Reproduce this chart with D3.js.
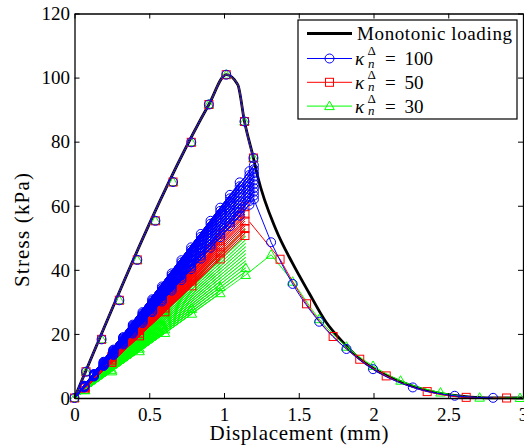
<!DOCTYPE html>
<html>
<head>
<meta charset="utf-8">
<script src="https://cdn.jsdelivr.net/npm/d3@7"></script>
<style>
  body { margin: 0; background: #fff; }
  svg text { font-family: "Liberation Serif", serif; }
</style>
</head>
<body>
<div id="chart"></div>
<script>
// monotonic loading curve
var monoX = [0, 0.899, 1.015, 1.092, 1.137, 1.197, 1.225, 1.348, 1.459, 1.57, 1.681, 1.792, 1.903, 2.015, 2.125, 2.237, 2.348, 2.525, 2.65, 2.8, 3.0];
var monoY = [0, 91.6, 100.9, 97.8, 86.3, 74.9, 69.2, 52.5, 42.0, 32.7, 23.8, 17.6, 12.4, 8.75, 6.2, 4.1, 2.5, 0.9, 0.3, 0.05, 0];

// first loading (markers of all three runs sit on the monotonic curve)
var virginX = [0, 0.077, 0.181, 0.3, 0.42, 0.541, 0.659, 0.781, 0.899, 1.015, 1.137, 1.197];
var virginY = [0, 8.2, 18.3, 30.5, 43.1, 55.3, 67.4, 79.8, 91.6, 100.9, 86.3, 74.9];

// cyclic blocks: displacement of each block, peak stress of each cycle in it
var blueBlockX = [0.065, 0.13, 0.195, 0.26, 0.325, 0.39, 0.455, 0.52, 0.585, 0.65, 0.715, 0.78, 0.845, 0.91, 0.975, 1.04, 1.105, 1.17, 1.2];
var blueBlockY = [
  [3.8, 3.8, 3.7, 3.7, 3.6, 3.5, 3.5, 3.4, 3.4, 3.3],
  [7.5, 7.4, 7.3, 7.2, 7.1, 7.0, 7.0, 6.9, 6.8, 6.7],
  [11.3, 11.2, 11.0, 10.9, 10.7, 10.6, 10.4, 10.3, 10.1, 10.0],
  [15.1, 14.9, 14.7, 14.5, 14.3, 14.2, 14.0, 13.8, 13.6, 13.4],
  [19.0, 18.7, 18.5, 18.2, 18.0, 17.7, 17.5, 17.2, 17.0, 16.7],
  [22.9, 22.6, 22.3, 22.0, 21.7, 21.3, 21.0, 20.7, 20.4, 20.1],
  [26.8, 26.4, 26.0, 25.7, 25.3, 24.9, 24.5, 24.2, 23.8, 23.4],
  [30.8, 30.4, 29.9, 29.5, 29.0, 28.6, 28.1, 27.7, 27.2, 26.8],
  [34.8, 34.3, 33.8, 33.2, 32.7, 32.2, 31.7, 31.1, 30.6, 30.1],
  [38.9, 38.3, 37.7, 37.1, 36.5, 35.9, 35.3, 34.7, 34.1, 33.5],
  [43.0, 42.3, 41.6, 40.9, 40.2, 39.6, 38.9, 38.2, 37.5, 36.8],
  [47.0, 46.2, 45.5, 44.7, 44.0, 43.2, 42.5, 41.7, 41.0, 40.2],
  [51.2, 50.3, 49.5, 48.6, 47.8, 46.9, 46.1, 45.2, 44.4, 43.5],
  [55.3, 54.4, 53.4, 52.5, 51.6, 50.6, 49.7, 48.8, 47.8, 46.9],
  [59.4, 58.4, 57.4, 56.3, 55.3, 54.3, 53.3, 52.2, 51.2, 50.2],
  [63.4, 62.3, 61.2, 60.1, 59.0, 58.0, 56.9, 55.8, 54.7, 53.6],
  [67.3, 66.1, 65.0, 63.8, 62.7, 61.5, 60.4, 59.2, 58.1, 56.9],
  [70.8, 69.6, 68.5, 67.3, 66.1, 65.0, 63.8, 62.6, 61.5, 60.3],
  [72.6, 71.4, 70.2, 69.1, 67.9, 66.7, 65.5, 64.4, 63.2, 62.0]
];
var redBlockX = [0.07, 0.25, 0.435, 0.605, 0.785, 0.975, 1.14];
var redBlockY = [
  [3.7, 3.7, 3.6, 3.6, 3.5, 3.5, 3.4, 3.4, 3.3, 3.3, 3.2, 3.2, 3.1, 3.1],
  [13.2, 13.0, 12.9, 12.7, 12.6, 12.4, 12.2, 12.1, 11.9, 11.8, 11.6, 11.4, 11.3, 11.1],
  [23.0, 22.7, 22.4, 22.2, 21.9, 21.6, 21.3, 21.1, 20.8, 20.5, 20.2, 19.9, 19.7, 19.4],
  [32.0, 31.6, 31.2, 30.8, 30.4, 30.0, 29.6, 29.3, 28.9, 28.5, 28.1, 27.7, 27.3, 26.9],
  [41.6, 41.1, 40.6, 40.1, 39.6, 39.1, 38.6, 38.0, 37.5, 37.0, 36.5, 36.0, 35.5, 35.0],
  [51.7, 51.1, 50.4, 49.8, 49.1, 48.5, 47.9, 47.2, 46.6, 45.9, 45.3, 44.7, 44.0, 43.4],
  [60.4, 59.7, 58.9, 58.2, 57.4, 56.7, 55.9, 55.2, 54.4, 53.7, 52.9, 52.2, 51.4, 50.7]
];
var greenBlockX = [0.07, 0.25, 0.435, 0.605, 0.785, 0.975, 1.145];
var greenBlockY = [
  [3.2, 3.1, 3.1, 3.0, 3.0, 2.9, 2.8, 2.8, 2.7, 2.6, 2.6, 2.5, 2.5, 2.4],
  [11.5, 11.3, 11.0, 10.8, 10.5, 10.3, 10.0, 9.8, 9.5, 9.3, 9.0, 8.8, 8.5, 8.3],
  [20.0, 19.6, 19.2, 18.8, 18.3, 17.9, 17.5, 17.1, 16.7, 16.3, 15.8, 15.4, 15.0, 14.6],
  [27.8, 27.2, 26.7, 26.1, 25.5, 24.9, 24.3, 23.8, 23.2, 22.6, 22.0, 21.4, 20.9, 20.3],
  [36.1, 35.3, 34.6, 33.8, 33.1, 32.3, 31.6, 30.8, 30.1, 29.3, 28.6, 27.8, 27.1, 26.3],
  [44.9, 44.0, 43.0, 42.1, 41.1, 40.2, 39.3, 38.3, 37.4, 36.4, 35.5, 34.6, 33.6, 32.7],
  [52.7, 51.6, 50.5, 49.4, 48.3, 47.2, 46.1, 45.0, 43.9, 42.8, 41.7, 40.6, 39.5, 38.4]
];

// final softening branch of each run
var blueTailX = [1.2, 1.315, 1.459, 1.637, 1.819, 1.997, 2.263, 2.543, 2.80];
var blueTailY = [62.0, 48.6, 35.6, 23.8, 15.3, 9.0, 3.3, 0.7, 0.05];
var redTailX = [1.17, 1.375, 1.552, 1.73, 1.908, 2.085, 2.359, 2.62, 2.89];
var redTailY = [55.0, 43.3, 29.4, 19.2, 12.1, 6.9, 2.0, 0.2, 0];
var greenTailX = [1.145, 1.315, 1.459, 1.637, 1.819, 1.997, 2.181, 2.448, 2.71, 2.98];
var greenTailY = [38.4, 44.7, 36.3, 24.6, 16.0, 10.0, 5.4, 1.7, 0.1, 0];

var xTicks = [0, 0.5, 1, 1.5, 2, 2.5, 3];
var xTickLabels = ["0", "0.5", "1", "1.5", "2", "2.5", "3"];
var yTicks = [0, 20, 40, 60, 80, 100, 120];
var legendLabels = ["100", "50", "30"];

var W = 524, H = 448;
var fontF = "'Liberation Serif', serif";

var svg = d3.select("#chart").append("svg")
    .attr("width", W)
    .attr("height", H)
    .attr("font-family", fontF);

var x = d3.scaleLinear().domain([0, 3]).range([74.5, 523]);
var y = d3.scaleLinear().domain([0, 120]).range([398, 13.5]);

// markers: every = step between marked cycles (from the last one), count = how many
var series = [
  {name: "green", color: "#00ff00", marker: "tri", bx: greenBlockX, by: greenBlockY, tx: greenTailX, ty: greenTailY, every: 2, count: 2},
  {name: "red", color: "#ff0000", marker: "sq", bx: redBlockX, by: redBlockY, tx: redTailX, ty: redTailY, every: 3, count: 5},
  {name: "blue", color: "#0000ff", marker: "circ", bx: blueBlockX, by: blueBlockY, tx: blueTailX, ty: blueTailY, every: 1, count: 10}
];

function drawMarker(g, type, px, py, color) {
  if (type == "circ") {
    g.append("circle").attr("cx", px).attr("cy", py).attr("r", 4.5)
      .attr("fill", "none").attr("stroke", color).attr("stroke-width", 1);
  } else if (type == "sq") {
    g.append("rect").attr("x", px - 4).attr("y", py - 4).attr("width", 8).attr("height", 8)
      .attr("fill", "none").attr("stroke", color).attr("stroke-width", 1);
  } else {
    g.append("path")
      .attr("d", "M" + px + "," + (py - 5) + "L" + (px + 4.8) + "," + (py + 3.5) + "L" + (px - 4.8) + "," + (py + 3.5) + "Z")
      .attr("fill", "none").attr("stroke", color).attr("stroke-width", 1);
  }
}

var line = d3.line().x(function(d) { return x(d[0]); }).y(function(d) { return y(d[1]); });
var smooth = d3.line().x(function(d) { return x(d[0]); }).y(function(d) { return y(d[1]); }).curve(d3.curveMonotoneX);

var monoPts = monoX.map(function(v, i) { return [v, monoY[i]]; });

// monotonic curve
svg.append("path")
    .attr("d", smooth(monoPts))
    .attr("fill", "none")
    .attr("stroke", "#000")
    .attr("stroke-width", 2.8);

var virginPts = monoPts.filter(function(d) { return d[0] <= 1.2; });

series.forEach(function(s) {
  var g = svg.append("g").attr("class", s.name);

  // cycles: load from origin to peak and back
  var pts = [];
  s.bx.forEach(function(bx, i) {
    s.by[i].forEach(function(v) {
      pts.push([0, 0]);
      pts.push([bx, v]);
    });
  });
  g.append("path").attr("d", line(pts))
    .attr("fill", "none").attr("stroke", s.color).attr("stroke-width", 0.9);

  s.bx.forEach(function(bx, i) {
    var n = s.by[i].length;
    s.by[i].forEach(function(v, j) {
      var k = n - 1 - j;
      if (k % s.every == 0 && k / s.every < s.count) drawMarker(g, s.marker, x(bx), y(v), s.color);
    });
  });

  // first loading along the monotonic curve
  g.append("path").attr("d", smooth(virginPts))
    .attr("fill", "none").attr("stroke", s.color).attr("stroke-width", 1);
  virginX.forEach(function(v, i) { drawMarker(g, s.marker, x(v), y(virginY[i]), s.color); });

  // final softening
  var tail = s.tx.map(function(v, i) { return [v, s.ty[i]]; });
  g.append("path").attr("d", line(tail.slice(0, 2)))
    .attr("fill", "none").attr("stroke", s.color).attr("stroke-width", 1);
  g.append("path").attr("d", smooth(tail.slice(1)))
    .attr("fill", "none").attr("stroke", s.color).attr("stroke-width", 1);
  tail.slice(1).forEach(function(d) { drawMarker(g, s.marker, x(d[0]), y(d[1]), s.color); });
});

// axes, ticks pointing inward
var xAxis = svg.append("g").attr("transform", "translate(0,398)")
    .call(d3.axisBottom(x).tickValues(xTicks).tickSizeInner(-5).tickSizeOuter(0).tickPadding(10)
      .tickFormat(function(d, i) { return xTickLabels[i]; }));
var yAxis = svg.append("g").attr("transform", "translate(74.5,0)")
    .call(d3.axisLeft(y).tickValues(yTicks).tickSizeInner(-5).tickSizeOuter(0).tickPadding(4.5));
var xTop = svg.append("g").attr("transform", "translate(0,13.5)")
    .call(d3.axisTop(x).tickValues(xTicks).tickSizeInner(-5).tickSizeOuter(0).tickFormat(""));
var yRight = svg.append("g").attr("transform", "translate(523,0)")
    .call(d3.axisRight(y).tickValues(yTicks).tickSizeInner(-5).tickSizeOuter(0).tickFormat(""));

[xAxis, yAxis, xTop, yRight].forEach(function(a) {
  a.attr("font-family", fontF).attr("font-size", 19);
  a.select(".domain").attr("stroke", "#000").attr("stroke-width", 1.3);
  a.selectAll(".tick line").attr("stroke", "#000").attr("stroke-width", 1);
  a.selectAll(".tick text").attr("fill", "#000");
});
yAxis.selectAll(".tick text").attr("dy", "0.33em");

svg.append("text")
    .attr("x", 299).attr("y", 440)
    .attr("text-anchor", "middle")
    .attr("font-size", 21)
    .attr("textLength", 179)
    .text("Displacement (mm)");

svg.append("text")
    .attr("transform", "translate(29,230) rotate(-90)")
    .attr("text-anchor", "middle")
    .attr("font-size", 21)
    .attr("textLength", 114)
    .text("Stress (kPa)");

// legend
var lg = svg.append("g");
lg.append("rect")
    .attr("x", 298).attr("y", 20).attr("width", 219).attr("height", 99)
    .attr("fill", "#fff").attr("stroke", "#000").attr("stroke-width", 1.2);

lg.append("line").attr("x1", 307).attr("x2", 352).attr("y1", 33.5).attr("y2", 33.5)
    .attr("stroke", "#000").attr("stroke-width", 3);
lg.append("text").attr("x", 357).attr("y", 39.5).attr("font-size", 19)
    .attr("textLength", 155).text("Monotonic loading");

var legendRows = [series[2], series[1], series[0]];
legendRows.forEach(function(s, i) {
  var ly = 58.5 + i * 23.8;
  lg.append("line").attr("x1", 307).attr("x2", 352).attr("y1", ly).attr("y2", ly)
    .attr("stroke", s.color).attr("stroke-width", 1);
  drawMarker(lg, s.marker, 329.5, ly, s.color);
  var base = ly + 6.5;
  var t = lg.append("text").attr("x", 355).attr("y", base).attr("font-size", 19);
  t.append("tspan").attr("font-style", "italic").text("κ");
  t.append("tspan").attr("x", 367.5).attr("dy", -10).attr("font-size", 13).text("Δ");
  t.append("tspan").attr("x", 368).attr("dy", 12.5).attr("font-size", 13)
    .attr("font-style", "italic").text("n");
  var t2 = lg.append("text").attr("x", 385).attr("y", base).attr("font-size", 19);
  t2.append("tspan").text("=");
  t2.append("tspan").attr("x", 404.5).text(legendLabels[i]);
});
</script>
</body>
</html>
